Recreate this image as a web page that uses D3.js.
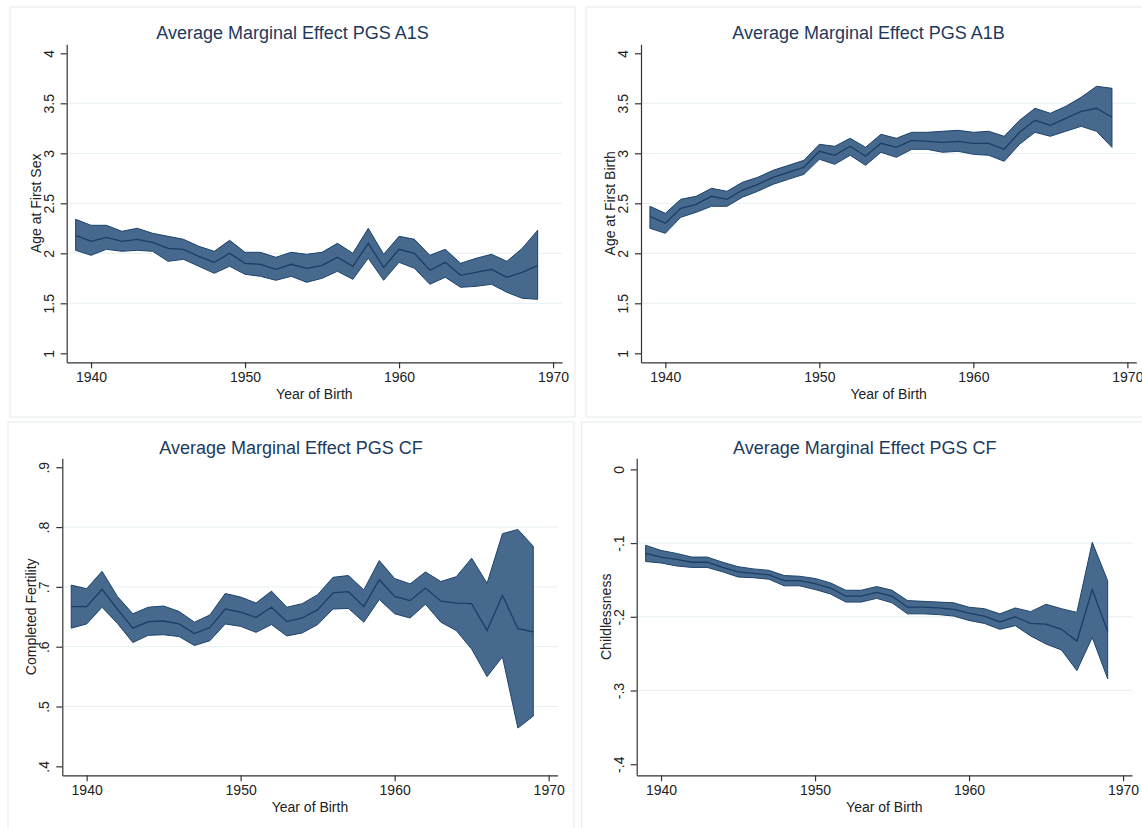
<!DOCTYPE html>
<html lang="en">
<head>
  <meta charset="UTF-8" />
  <title>Average Marginal Effects of PGS by Year of Birth</title>
  <script src="https://d3js.org/d3.v7.min.js"></script>
  <style>
    body {
      margin: 0;
      background: #ffffff;
      font-family: "Liberation Sans", Arial, Helvetica, sans-serif;
    }
    .frame { fill: #ffffff; stroke: #e3ebee; stroke-width: 1; }
    .ptitle { fill: #1d3a5e; font-size: 18px; text-anchor: middle; }
    .axis path, .axis line { stroke: #333; stroke-width: 1.2; }
    .axis text { fill: #222; font-size: 14px; font-family: "Liberation Sans", Arial, sans-serif; }
    .grid { stroke: #e6eff1; stroke-width: 1; }
    .band { fill: #46698d; stroke: #1d436b; stroke-width: 1; }
    .mean { fill: none; stroke: #1a3e65; stroke-width: 1.3; }
    .atitle { fill: #222; font-size: 14px; text-anchor: middle; }
  </style>
</head>
<body>
  <div id="chart"></div>
  <script>
    const width = 1142, height = 828;

    // birth cohorts
    const years = [1939, 1940, 1941, 1942, 1943, 1944, 1945, 1946, 1947, 1948, 1949,
                   1950, 1951, 1952, 1953, 1954, 1955, 1956, 1957, 1958, 1959,
                   1960, 1961, 1962, 1963, 1964, 1965, 1966, 1967, 1968, 1969];
    const xTicks = [1940, 1950, 1960, 1970];

    // PGS A1S -> age at first sex
    const a1sMean = [2.18, 2.12, 2.16, 2.12, 2.14, 2.11, 2.05, 2.04, 1.97, 1.91, 2.00,
                     1.90, 1.89, 1.84, 1.89, 1.85, 1.88, 1.96, 1.87, 2.10, 1.86,
                     2.04, 2.00, 1.83, 1.91, 1.78, 1.81, 1.84, 1.76, 1.81, 1.88];
    const a1sLo   = [2.03, 1.98, 2.04, 2.02, 2.03, 2.02, 1.92, 1.94, 1.87, 1.80, 1.87,
                     1.79, 1.77, 1.73, 1.77, 1.71, 1.75, 1.82, 1.74, 1.95, 1.73,
                     1.91, 1.85, 1.69, 1.76, 1.66, 1.67, 1.69, 1.61, 1.55, 1.54];
    const a1sHi   = [2.34, 2.28, 2.28, 2.22, 2.25, 2.20, 2.17, 2.14, 2.07, 2.02, 2.13,
                     2.01, 2.01, 1.96, 2.01, 1.99, 2.01, 2.10, 2.00, 2.25, 1.99,
                     2.17, 2.14, 1.98, 2.04, 1.90, 1.95, 1.99, 1.92, 2.05, 2.23];

    // PGS A1B -> age at first birth
    const a1bMean = [2.37, 2.30, 2.45, 2.49, 2.57, 2.54, 2.63, 2.69, 2.76, 2.81, 2.86,
                     3.02, 2.98, 3.07, 2.97, 3.10, 3.06, 3.13, 3.12, 3.11, 3.12,
                     3.10, 3.10, 3.04, 3.21, 3.33, 3.28, 3.35, 3.42, 3.45, 3.36];
    const a1bLo   = [2.25, 2.20, 2.36, 2.41, 2.47, 2.47, 2.56, 2.62, 2.69, 2.74, 2.79,
                     2.94, 2.89, 2.98, 2.88, 3.01, 2.96, 3.04, 3.04, 3.01, 3.02,
                     2.99, 2.98, 2.92, 3.09, 3.21, 3.17, 3.22, 3.27, 3.22, 3.06];
    const a1bHi   = [2.47, 2.40, 2.54, 2.57, 2.65, 2.62, 2.71, 2.76, 2.83, 2.88, 2.93,
                     3.09, 3.07, 3.15, 3.06, 3.19, 3.15, 3.21, 3.21, 3.22, 3.23,
                     3.21, 3.22, 3.17, 3.33, 3.45, 3.40, 3.47, 3.56, 3.67, 3.65];

    // PGS CF -> completed fertility
    const cfMean = [0.667, 0.667, 0.696, 0.663, 0.631, 0.642, 0.643, 0.638, 0.622, 0.632, 0.663,
                    0.658, 0.649, 0.666, 0.642, 0.648, 0.662, 0.690, 0.692, 0.667, 0.712,
                    0.684, 0.677, 0.698, 0.676, 0.673, 0.672, 0.627, 0.686, 0.630, 0.625];
    const cfLo   = [0.631, 0.638, 0.666, 0.639, 0.607, 0.619, 0.620, 0.617, 0.602, 0.610, 0.638,
                    0.634, 0.624, 0.637, 0.618, 0.623, 0.637, 0.663, 0.664, 0.641, 0.679,
                    0.655, 0.648, 0.671, 0.641, 0.627, 0.596, 0.550, 0.583, 0.464, 0.484];
    const cfHi   = [0.703, 0.697, 0.726, 0.684, 0.655, 0.666, 0.668, 0.659, 0.641, 0.653, 0.689,
                    0.683, 0.673, 0.693, 0.666, 0.672, 0.687, 0.716, 0.719, 0.695, 0.744,
                    0.714, 0.705, 0.725, 0.709, 0.717, 0.748, 0.706, 0.789, 0.796, 0.768];

    // PGS CF -> childlessness
    const clMean = [-0.114, -0.119, -0.122, -0.126, -0.126, -0.133, -0.139, -0.141, -0.143, -0.151, -0.151,
                    -0.155, -0.161, -0.172, -0.172, -0.167, -0.172, -0.187, -0.187, -0.188, -0.190,
                    -0.195, -0.199, -0.207, -0.200, -0.209, -0.210, -0.217, -0.233, -0.163, -0.220];
    const clLo   = [-0.125, -0.127, -0.131, -0.133, -0.133, -0.139, -0.146, -0.147, -0.149, -0.158, -0.158,
                    -0.163, -0.169, -0.180, -0.180, -0.175, -0.181, -0.196, -0.196, -0.197, -0.199,
                    -0.205, -0.209, -0.217, -0.212, -0.226, -0.237, -0.245, -0.273, -0.228, -0.284];
    const clHi   = [-0.103, -0.110, -0.114, -0.119, -0.119, -0.126, -0.132, -0.135, -0.137, -0.144, -0.145,
                    -0.148, -0.154, -0.164, -0.164, -0.159, -0.164, -0.178, -0.179, -0.180, -0.181,
                    -0.187, -0.189, -0.196, -0.188, -0.193, -0.183, -0.189, -0.194, -0.099, -0.151];

    const ticksAge = [1, 1.5, 2, 2.5, 3, 3.5, 4];
    const ticksCF = [0.4, 0.5, 0.6, 0.7, 0.8, 0.9];
    const ticksCL = [-0.4, -0.3, -0.2, -0.1, 0];

    const svg = d3.select("#chart").append("svg")
      .attr("width", width)
      .attr("height", height);

    // layout of the four graphs (combined like Stata's graph combine)
    const panels = [
      { frame: [10, 7, 565, 410], left: 66.7, bottom: 362.3, top: 44.3, yDom: [0.91, 4.09],
        title: "Average Marginal Effect PGS A1S", ylab: "Age at First Sex",
        ticks: ticksAge, fmt: d => String(d), mean: a1sMean, lo: a1sLo, hi: a1sHi },
      { frame: [586, 7, 565, 410], left: 641, bottom: 362.3, top: 44.3, yDom: [0.91, 4.09],
        title: "Average Marginal Effect PGS A1B", ylab: "Age at First Birth",
        ticks: ticksAge, fmt: d => String(d), mean: a1bMean, lo: a1bLo, hi: a1bHi },
      { frame: [8, 422, 566, 420], left: 62.3, bottom: 775.3, top: 458.3, yDom: [0.385, 0.915],
        title: "Average Marginal Effect PGS CF", ylab: "Completed Fertility",
        ticks: ticksCF, fmt: d => String(d).replace("0.", "."), mean: cfMean, lo: cfLo, hi: cfHi },
      { frame: [581.7, 422, 566, 420], left: 636.7, bottom: 775.3, top: 458.3, yDom: [-0.415, 0.015],
        title: "Average Marginal Effect PGS CF", ylab: "Childlessness",
        ticks: ticksCL, fmt: d => String(d).replace("0.", "."), mean: clMean, lo: clLo, hi: clHi }
    ];

    panels.forEach(p => {
      const g = svg.append("g");
      const [fx, fy, fw, fh] = p.frame;

      g.append("rect").attr("class", "frame")
        .attr("x", fx).attr("y", fy).attr("width", fw).attr("height", fh);

      g.append("text").attr("class", "ptitle")
        .attr("x", fx + fw / 2).attr("y", fy + 31.5)
        .text(p.title);

      // x axis runs a little past 1939 and 1970
      const right = p.left + 495.3;
      const x = d3.scaleLinear().domain([1938.42, 1970.58]).range([p.left, right]);
      const y = d3.scaleLinear().domain(p.yDom).range([p.bottom, p.top]);

      // gridlines on inner ticks only
      g.selectAll("line.grid")
        .data(p.ticks.slice(1, -1))
        .enter().append("line")
        .attr("class", "grid")
        .attr("x1", p.left).attr("x2", right)
        .attr("y1", d => y(d)).attr("y2", d => y(d));

      const rows = years.map((yr, i) => ({ yr, m: p.mean[i], lo: p.lo[i], hi: p.hi[i] }));

      const area = d3.area()
        .x(d => x(d.yr))
        .y0(d => y(d.lo))
        .y1(d => y(d.hi));
      g.append("path").datum(rows).attr("class", "band").attr("d", area);

      const line = d3.line().x(d => x(d.yr)).y(d => y(d.m));
      g.append("path").datum(rows).attr("class", "mean").attr("d", line);

      const xAxis = g.append("g").attr("class", "axis")
        .attr("transform", `translate(0,${p.bottom})`)
        .call(d3.axisBottom(x).tickValues(xTicks).tickSize(6).tickSizeOuter(0).tickFormat(d3.format("d")));
      xAxis.selectAll("text").attr("y", 20).attr("dy", 0);

      const yAxis = g.append("g").attr("class", "axis")
        .attr("transform", `translate(${p.left},0)`)
        .call(d3.axisLeft(y).tickValues(p.ticks).tickSize(6).tickSizeOuter(0).tickFormat(p.fmt));
      yAxis.selectAll("text")
        .attr("x", 0).attr("y", -13).attr("dy", 0)
        .attr("text-anchor", "middle")
        .attr("transform", "rotate(-90)");

      g.append("text").attr("class", "atitle")
        .attr("x", (p.left + right) / 2).attr("y", p.bottom + 36.7)
        .text("Year of Birth");

      g.append("text").attr("class", "atitle")
        .attr("transform", `translate(${p.left - 26},${(p.top + p.bottom) / 2}) rotate(-90)`)
        .text(p.ylab);
    });
  </script>
</body>
</html>
